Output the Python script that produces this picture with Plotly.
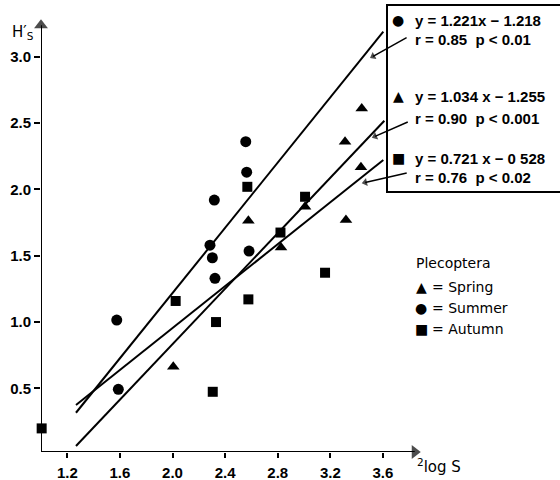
import plotly.graph_objects as go

# ---- data ----
summer_x = [1.576, 1.588, 2.318, 2.557, 2.564, 2.285, 2.303, 2.323, 2.582]
summer_y = [1.015, 0.493, 1.92, 2.36, 2.13, 1.58, 1.485, 1.33, 1.535]

autumn_x = [1.005, 2.024, 2.331, 2.306, 2.577, 2.569, 3.16, 2.821, 3.008]
autumn_y = [0.198, 1.159, 1.0, 0.474, 1.171, 2.02, 1.372, 1.675, 1.945]

spring_x = [2.006, 2.577, 2.825, 3.008, 3.319, 3.312, 3.439, 3.433]
spring_y = [0.663, 1.764, 1.563, 1.87, 1.77, 2.36, 2.61, 2.167]

# regression line end points as drawn: [x_start, x_end], [y_start, y_end]
summer_line_x = [1.266, 3.603]
summer_line_y = [0.316, 3.19]
spring_line_x = [1.266, 3.611]
spring_line_y = [0.065, 2.518]
autumn_line_x = [1.266, 3.603]
autumn_line_y = [0.374, 2.222]

x_ticks = [1.2, 1.6, 2.0, 2.4, 2.8, 3.2, 3.6]
x_tick_text = ["1.2", "1.6", "2.0", "2.4", "2.8", "3.2", "3.6"]
y_ticks = [0.5, 1.0, 1.5, 2.0, 2.5, 3.0]
y_tick_text = ["0.5", "1.0", "1.5", "2.0", "2.5", "3.0"]

eq_lines = [
    ("●", "y = 1.221x − 1.218", "r = 0.85  p < 0.01"),
    ("▲", "y = 1.034 x − 1.255", "r = 0.90  p < 0.001"),
    ("■", "y = 0.721 x − 0 528", "r = 0.76  p < 0.02"),
]
legend_items = [("▲", "= Spring"), ("●", "= Summer"), ("■", "= Autumn")]

X0, X1 = 1.0, 3.882
Y0, Y1 = 0.02, 3.278

fig = go.Figure()

for lx, ly in [(summer_line_x, summer_line_y), (spring_line_x, spring_line_y),
               (autumn_line_x, autumn_line_y)]:
    fig.add_trace(go.Scatter(x=lx, y=ly, mode="lines",
                             line=dict(color="black", width=2), showlegend=False,
                             hoverinfo="skip"))

for xs, ys, sym, sz in [(summer_x, summer_y, "circle", 11),
                        (autumn_x, autumn_y, "square", 10),
                        (spring_x, spring_y, "triangle-up", 11)]:
    fig.add_trace(go.Scatter(x=xs, y=ys, mode="markers", cliponaxis=False,
                             marker=dict(symbol=sym, size=sz, color="black"),
                             showlegend=False))

# axes and pointers drawn as arrows
def arrow_trace(xs, ys, width, head):
    return go.Scatter(x=xs, y=ys, mode="lines+markers", cliponaxis=False,
                      line=dict(color="black", width=width),
                      marker=dict(symbol="triangle-up", angleref="previous", size=[0, head],
                                  color="black", line=dict(width=0, color="black")),
                      showlegend=False, hoverinfo="skip")

fig.add_trace(arrow_trace([X0, X0], [Y0, Y1 - 0.04], 2, 12))
fig.add_trace(arrow_trace([X0, X1 - 0.04], [Y0, Y0], 2, 12))

# pointer arrows from the equation box to the lines (data coords): tail -> head
pointers = [((3.78, 3.145), (3.525, 3.004)),
            ((3.789, 2.509), (3.54, 2.400)),
            ((3.781, 2.124), (3.465, 2.053))]
for (tx, ty), (hx, hy) in pointers:
    fig.add_trace(arrow_trace([tx, hx], [ty, hy], 1.5, 7))

BF = dict(family="Liberation Sans", size=15, color="black", weight="bold")
TF = dict(family="Liberation Sans", size=15, color="black", weight="bold")

def px(p):
    return (p - 41) / 379.0

def py(p):
    return (452 - p) / 432.0

annotations = []
eq_y = [(20, 40), (96, 118), (158, 178)]
for (sc, eq, rr), (y1, y2) in zip(eq_lines, eq_y):
    annotations.append(dict(x=px(398), y=py(y1), xref="paper", yref="paper", text=sc,
                            showarrow=False, xanchor="center", yanchor="middle",
                            font=dict(family="DejaVu Sans", size=14, color="black")))
    annotations.append(dict(x=px(413), y=py(y1), xref="paper", yref="paper", text=eq,
                            showarrow=False, xanchor="left", yanchor="middle", font=BF))
    annotations.append(dict(x=px(413), y=py(y2), xref="paper", yref="paper", text=rr,
                            showarrow=False, xanchor="left", yanchor="middle", font=BF))

LF = dict(family="DejaVu Sans", size=14, color="black")
annotations.append(dict(x=px(414), y=py(263), xref="paper", yref="paper", text="Plecoptera",
                        showarrow=False, xanchor="left", yanchor="middle", font=LF))
for (sc, lab), yy in zip(legend_items, [287, 308, 329]):
    annotations.append(dict(x=px(421), y=py(yy), xref="paper", yref="paper", text=sc,
                            showarrow=False, xanchor="center", yanchor="middle", font=LF))
    annotations.append(dict(x=px(430), y=py(yy), xref="paper", yref="paper", text=lab,
                            showarrow=False, xanchor="left", yanchor="middle", font=LF))

annotations.append(dict(x=px(415), y=py(466), xref="paper", yref="paper",
                        text="<sup>2</sup>log S", showarrow=False, xanchor="left",
                        yanchor="middle", font=dict(family="DejaVu Sans", size=15, color="black")))
annotations.append(dict(x=px(10), y=py(33), xref="paper", yref="paper",
                        text="H′<sub>S</sub>", showarrow=False, xanchor="left",
                        yanchor="middle", font=dict(family="DejaVu Sans", size=15, color="black")))

fig.update_layout(
    width=560, height=480,
    margin=dict(l=41, r=140, t=20, b=28, autoexpand=False),
    paper_bgcolor="white", plot_bgcolor="white",
    showlegend=False,
    annotations=annotations,
    shapes=[dict(type="rect", xref="paper", yref="paper",
                 x0=px(387), x1=px(562), y0=py(192), y1=py(5),
                 line=dict(color="black", width=2), fillcolor="rgba(0,0,0,0)")],
    xaxis=dict(range=[X0, X1], showgrid=False, zeroline=False, showline=False,
               automargin=False,
               tickvals=x_ticks, ticktext=x_tick_text, ticks="outside", ticklen=5,
               tickwidth=2, tickcolor="black", tickfont=TF, ticklabelstandoff=2),
    yaxis=dict(range=[Y0, Y1], showgrid=False, zeroline=False, showline=False,
               automargin=False,
               tickvals=y_ticks, ticktext=y_tick_text, ticks="outside", ticklen=6,
               tickwidth=2, tickcolor="black", tickfont=TF),
)

fig.write_html("out.html")
